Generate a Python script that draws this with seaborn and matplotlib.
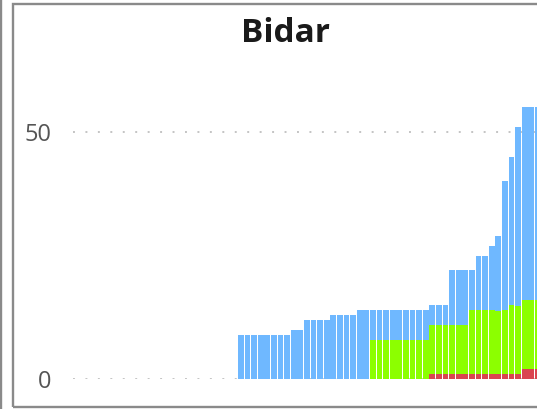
import numpy as np
import pandas as pd
import matplotlib
matplotlib.use("Agg")
import matplotlib.pyplot as plt
import seaborn as sns
from matplotlib.patches import Rectangle
from matplotlib.lines import Line2D

# data (daily cumulative counts, Bidar)
dates = pd.date_range("2020-03-09", periods=71).strftime("%Y-%m-%d").tolist()
confirmed = [0, 0, 0, 0, 0, 0, 0, 0, 0, 0, 0, 0, 0, 0, 0, 0, 0, 0, 0, 0, 0, 0, 0, 0, 0,
             9, 9, 9, 9, 9, 9, 9, 9, 10, 10, 12, 12, 12, 12, 13, 13, 13, 13,
             14, 14, 14, 14, 14, 14, 14, 14, 14, 14, 14, 15, 15, 15,
             22, 22, 22, 22, 25, 25, 27, 29, 40, 45, 51, 55, 55, 55]
recovered = [0, 0, 0, 0, 0, 0, 0, 0, 0, 0, 0, 0, 0, 0, 0, 0, 0, 0, 0, 0, 0, 0, 0, 0, 0,
             0, 0, 0, 0, 0, 0, 0, 0, 0, 0, 0, 0, 0, 0, 0, 0, 0, 0, 0, 0,
             8, 8, 8, 8, 8, 8, 8, 8, 8, 11, 11, 11, 11, 11, 11,
             14, 14, 14, 14, 13.8, 14, 15, 14.8, 16, 16, 16]
deceased = [0, 0, 0, 0, 0, 0, 0, 0, 0, 0, 0, 0, 0, 0, 0, 0, 0, 0, 0, 0, 0, 0, 0, 0, 0,
            0, 0, 0, 0, 0, 0, 0, 0, 0, 0, 0, 0, 0, 0, 0, 0, 0, 0, 0, 0, 0, 0, 0, 0, 0, 0, 0, 0, 0,
            1, 1, 1, 1, 1, 1, 1, 1, 1, 1, 1, 1, 1, 1, 2, 2, 2]
yticks = [0, 50]

df = pd.DataFrame({"date": dates, "confirmed": confirmed,
                   "recovered": recovered, "deceased": deceased})

BLUE = "#6fb8ff"
GREEN = "#8cff00"
RED = "#da4450"

sns.set_style("white")
plt.rcParams["font.family"] = ["Open Sans", "DejaVu Sans"]

fig = plt.figure(figsize=(5.37, 4.09), dpi=100)
W, H = 537, 409
# plot area runs off the right edge, like the cropped original
ax = fig.add_axes([72.6 / W, 29.7 / H, 6.6 * 76 / W, 320 / H])

for col, c in [("confirmed", BLUE), ("recovered", GREEN), ("deceased", RED)]:
    sns.barplot(data=df, x="date", y=col, color=c, saturation=1, width=0.88,
                linewidth=0, ax=ax, zorder=2)

ax.set_xlim(-0.5, 75.5)
ax.set_ylim(0, 320 / 4.946)
ax.set_yticks(yticks)
ax.set_yticklabels([str(t) for t in yticks], fontsize=17, color="#555555")
ax.tick_params(axis="y", length=0, pad=15)
ax.set_xticks([])
ax.set_xlabel("")
ax.set_ylabel("")
for s in ax.spines.values():
    s.set_visible(False)
for t in yticks:
    ax.axhline(t, color="#c4c4c4", lw=1.4, ls=(0, (1, 5.4)), zorder=1)

fig.text(285 / W, 1 - 41.7 / H, "Bidar", ha="center", va="baseline",
         fontsize=24, fontweight="bold", color="#1a1a1a")

# panel frame (cut at the right) and edge of the neighbour panel
fig.patches.append(Rectangle((12.5 / W, 2.5 / H), 1.2, (H - 6) / H,
                             transform=fig.transFigure, fill=False,
                             edgecolor="#8a8a8a", lw=1.7))
fig.lines.append(Line2D([1 / W, 1 / W], [0, 1], transform=fig.transFigure,
                        color="#8a8a8a", lw=1.7))

fig.savefig("out.png", dpi=100)
